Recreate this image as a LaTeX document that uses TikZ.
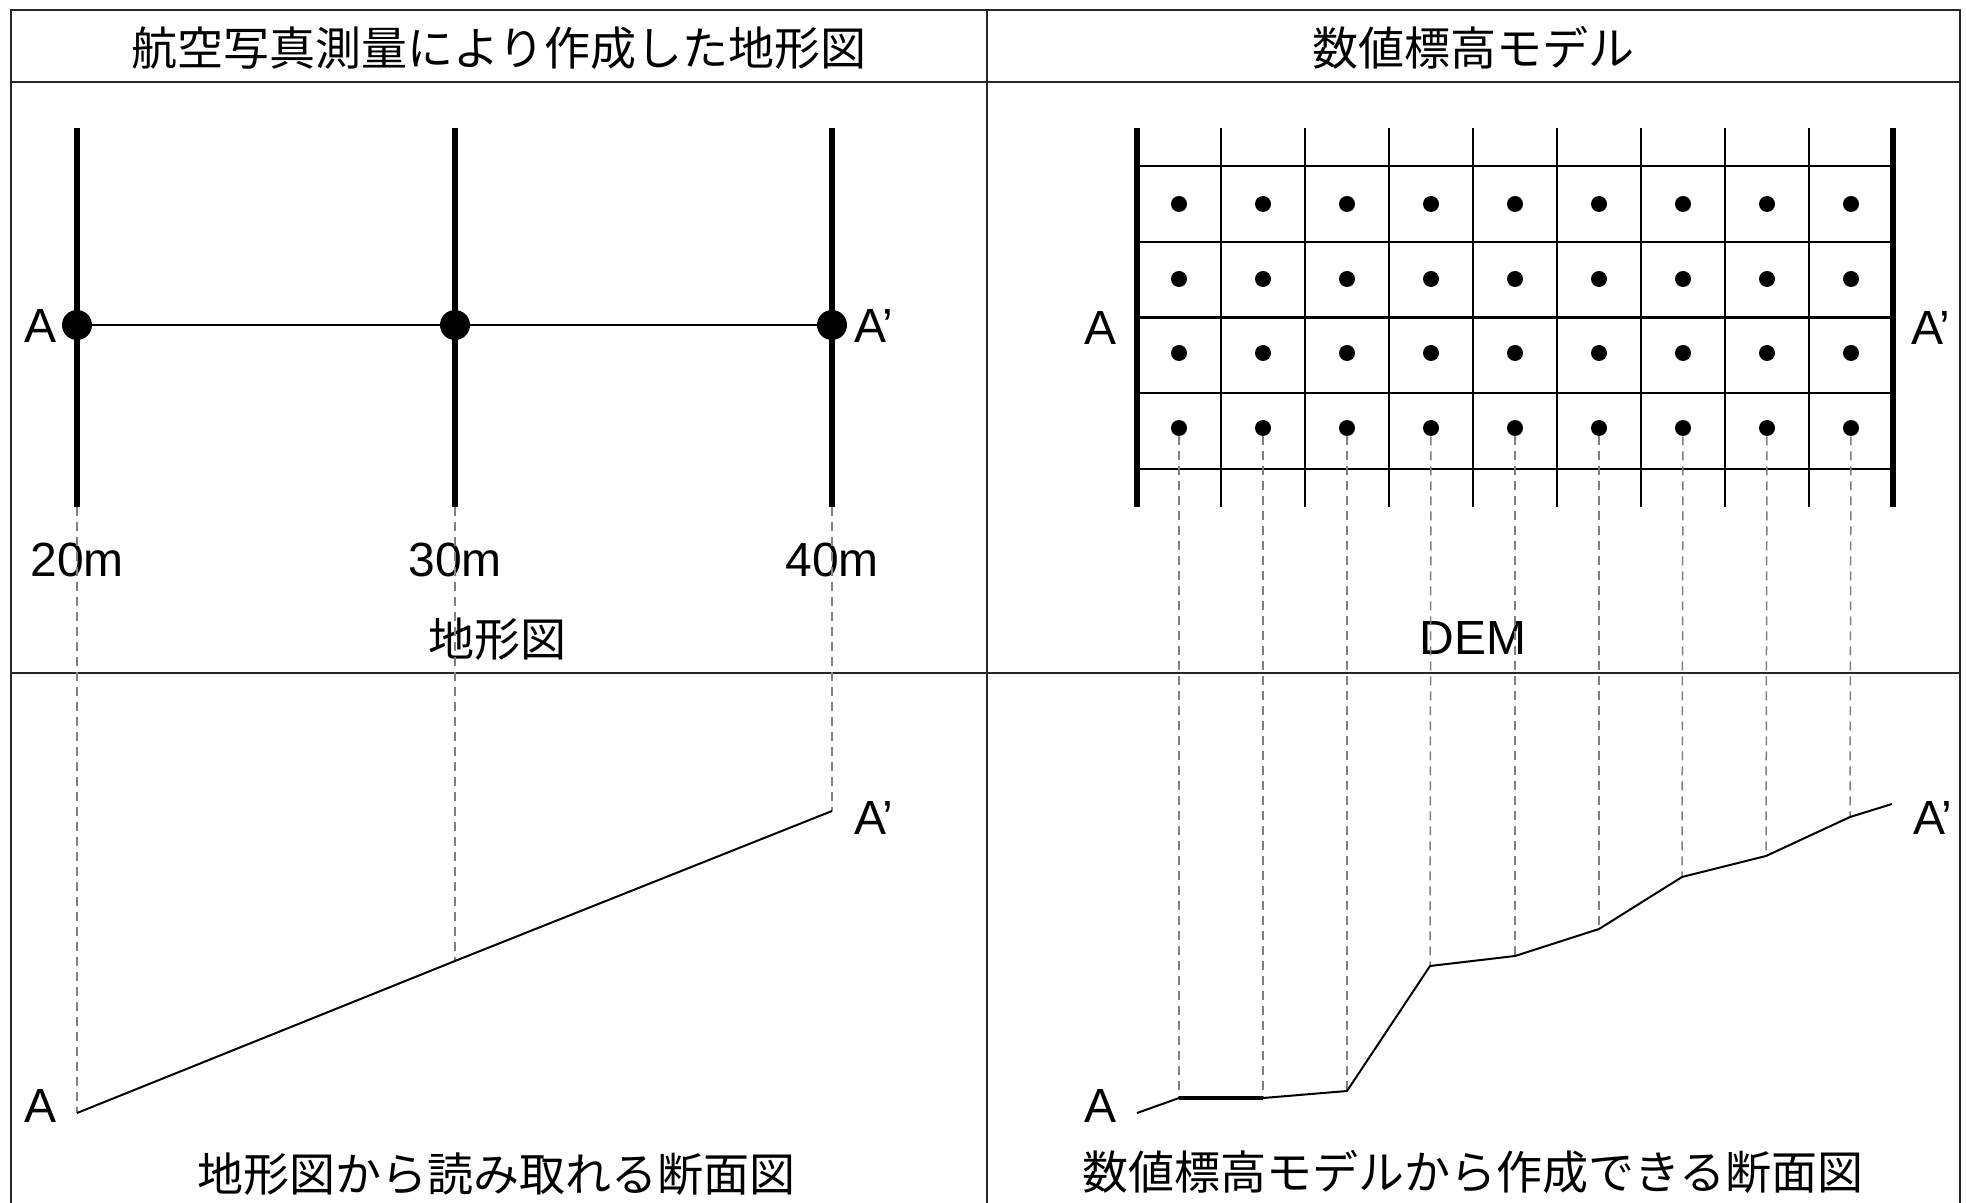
\documentclass[tikz,border=0pt]{standalone}
\usepackage{fontspec}
\setmainfont{Liberation Sans}
\newfontfamily\jpfont{Noto Sans CJK JP}
\begin{document}
\begin{tikzpicture}[x=0.5pt,y=-0.5pt,
  frame/.style={line width=1.1pt, draw=black!85},
  contour/.style={line width=3pt, line cap=butt},
  gridline/.style={line width=1.2pt},
  guide/.style={draw=gray, line width=0.75pt, dash pattern=on 4.5pt off 3pt},
  profile/.style={line width=1pt},
  bigdot/.style={circle, fill=black, inner sep=0pt, minimum size=15pt},
  smalldot/.style={circle, fill=black, inner sep=0pt, minimum size=8pt},
  lbl/.style={font=\fontsize{24pt}{28pt}\selectfont, inner sep=0pt},
  jlbl/.style={font=\jpfont\fontsize{23pt}{27pt}\selectfont, inner sep=0pt}]
\useasboundingbox (0,0) rectangle (1966,1203);
\fill[white] (0,0) rectangle (1966,1203);

% frame
\draw[frame] (11,1210) -- (11,10) -- (1960,10) -- (1960,1210);
\draw[frame] (987,10) -- (987,1210);
\draw[frame] (11,82) -- (1960,82);
\draw[frame] (11,673) -- (1960,673);

% titles
\node[jlbl] (t1) at (499,48) {航空写真測量により作成した地形図};
\node[jlbl] (t2) at (1473,48) {数値標高モデル};

% ---------- left top: contour map ----------
\foreach \n/\x in {1/77,2/455,3/832}{
  \coordinate (c\n t) at (\x,128);
  \coordinate (c\n b) at (\x,507);
  \draw[contour] (c\n t) -- (c\n b);
  \node[bigdot] (a\n) at (\x,325) {};
}
\draw[profile] (a1) -- (a2) -- (a3);
\node[lbl] (la) at (41,326) {A};
\node[lbl, anchor=west] (lap) at (854,326) {A’};
\node[lbl] (m20) at (77,560) {20m};
\node[lbl] (m30) at (455,560) {30m};
\node[lbl] (m40) at (832,560) {40m};
\node[jlbl] (cap1) at (497,639) {地形図};

% ---------- left bottom: profile ----------
\coordinate (q1) at (77,1113);
\coordinate (q2) at (455,961);
\coordinate (q3) at (832,811);
\foreach \n in {1,2,3}{ \draw[guide] (c\n b) -- (q\n); }
\draw[profile] (q1) -- (q2) -- (q3);
\node[lbl] (lb) at (41,1106) {A};
\node[lbl, anchor=west] (lbp) at (854,818) {A’};
\node[jlbl] (cap3) at (496,1174) {地形図から読み取れる断面図};

% ---------- right top: DEM grid ----------
\foreach \i in {1,...,8}{
  \draw[gridline] ({1137+84*\i},128) -- ({1137+84*\i},507);
}
\foreach \y in {166,241.75,317.5,393.25,469}{
  \draw[gridline] (1137,\y) -- (1893,\y);
}
\coordinate (gl1) at (1137,128);
\coordinate (gl2) at (1137,507);
\coordinate (gr1) at (1893,128);
\coordinate (gr2) at (1893,507);
\draw[contour] (gl1) -- (gl2);
\draw[contour] (gr1) -- (gr2);
\foreach \r/\y in {1/204,2/279,3/353,4/428}{
  \foreach \c in {1,...,9}{
    \node[smalldot] (d\r-\c) at ({1137+84*\c-42},\y) {};
  }
}
\node[lbl] (ra) at (1100,328) {A};
\node[lbl, anchor=west] (rap) at (1911,328) {A’};
\node[lbl] (cap2) at (1473,638) {DEM};

% ---------- right bottom: profile ----------
\coordinate (p0) at (1137,1113);
\coordinate (p1) at (1179,1098);
\coordinate (p2) at (1263,1098);
\coordinate (p3) at (1347,1091);
\coordinate (p4) at (1430,966);
\coordinate (p5) at (1515,956);
\coordinate (p6) at (1599,929);
\coordinate (p7) at (1682,877);
\coordinate (p8) at (1766,856);
\coordinate (p9) at (1850,817);
\coordinate (p10) at (1892,804);
\foreach \c in {1,...,9}{ \draw[guide] (d4-\c) -- (p\c); }
\draw[profile] (p0) -- (p1) -- (p2) -- (p3) -- (p4) -- (p5) -- (p6) -- (p7) -- (p8) -- (p9) -- (p10);
\draw[line width=1.8pt] (p1) -- (p2);
\node[lbl] (rb) at (1100,1106) {A};
\node[lbl, anchor=west] (rbp) at (1913,818) {A’};
\node[jlbl] (cap4) at (1473,1172) {数値標高モデルから作成できる断面図};
\end{tikzpicture}
\end{document}
